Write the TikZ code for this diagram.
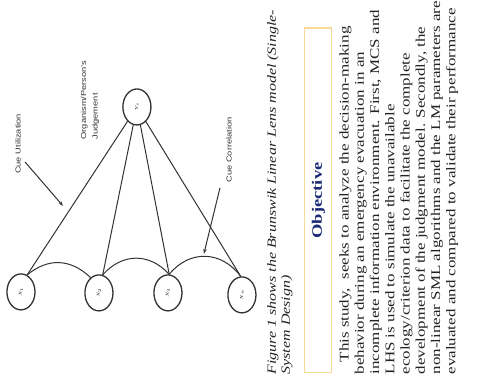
\documentclass[tikz,border=0pt]{standalone}
\usepackage{fontspec}
\setmainfont{Liberation Serif}
\setsansfont{Liberation Sans}
\usetikzlibrary{arrows.meta}
\definecolor{trazo}{RGB}{50,50,50}
\definecolor{azulobj}{RGB}{28,42,118}
\definecolor{marcoobj}{RGB}{246,218,150}
\definecolor{textoc}{RGB}{35,35,35}

\begin{document}
\begin{tikzpicture}[x=1pt, y=1pt, xscale=0.78, transform shape, >={Stealth[length=5pt,width=3.5pt]}, line width=1pt,
    cue/.style={circle, draw=trazo, line width=1.3pt, minimum size=36pt, inner sep=0pt, font=\fontsize{5}{6}\selectfont},
    etiq/.style={rotate=90, text=trazo, inner sep=0pt, font=\sffamily\fontsize{9.3}{15}\selectfont},
    linea/.style={draw=trazo}]
    \useasboundingbox (0,0) rectangle (640,-381);
    % juicio y claves
    \node[cue] (ys) at (175.6,-107) {\rotatebox{90}{$Y_s$}};
    \node[cue] (x1) at (26.9,-292) {\rotatebox{90}{$X_1$}};
    \node[cue] (x2) at (126.9,-293) {\rotatebox{90}{$X_2$}};
    \node[cue] (x3) at (215.4,-293) {\rotatebox{90}{$X_3$}};
    \node[cue] (xn) at (310.3,-295) {\rotatebox{90}{$X_n$}};
    % utilizacion de claves
    \draw[linea] (ys) -- (x1.65);
    \draw[linea] (ys) -- (x2.75);
    \draw[linea] (ys) -- (x3.85);
    \draw[linea] (ys) -- (xn.95);
    % correlacion entre claves
    \draw[linea] (x1.65) to[bend left=35] (x2.125);
    \draw[linea] (x2.75) to[bend left=41] (x3.85);
    \draw[linea] (x3.85) to[bend left=45] (xn.95);
    % etiquetas
    \node[etiq] (utiliz) at (23.1,-144) {Cue Utilization};
    \node[etiq, align=left] (juicio) at (115.4,-100) {Organism/Person's\\Judgement};
    \node[etiq] (correl) at (293.6,-150) {Cue Correlation};
    \coordinate (utilini) at (32.1,-162);
    \coordinate (utilfin) at (80.8,-206);
    \coordinate (corrini) at (282.1,-188);
    \coordinate (corrfin) at (261.5,-254);
    \draw[->,linea] (utilini) -- (utilfin);
    \draw[->,linea] (corrini) -- (corrfin);
    % pie de figura
    \node[rotate=90, anchor=west, align=left, inner sep=0pt, text=textoc, font=\itshape\fontsize{16}{18}\selectfont] (pie) at (359,-375)
        {Figure 1 shows the Brunswik Linear Lens model (Single-\\System Design)};
    % objetivo
    \node[rotate=90, draw=marcoobj, line width=1.2pt, minimum width=345pt, minimum height=34.6pt, text=azulobj, font=\bfseries\fontsize{18.5}{20}\selectfont] (obj) at (408.3,-200.5) {Objective};
    \node[rotate=90, anchor=west, align=left, inner sep=0pt, text=textoc, font=\fontsize{17}{19.6}\selectfont] (cuerpo) at (511.5,-375)
        {\hspace*{12pt}This study,\ \ seeks to analyze the decision-making\\
         behavior during an emergency evacuation in an\\
         incomplete information environment. First, MCS and\\
         LHS is used to simulate the unavailable\\
         ecology/criterion data to facilitate the complete\\
         development of the judgment model. Secondly, the\\
         non-linear SML algorithms and the LM parameters are\\
         evaluated and compared to validate their performance};
\end{tikzpicture}
\end{document}
